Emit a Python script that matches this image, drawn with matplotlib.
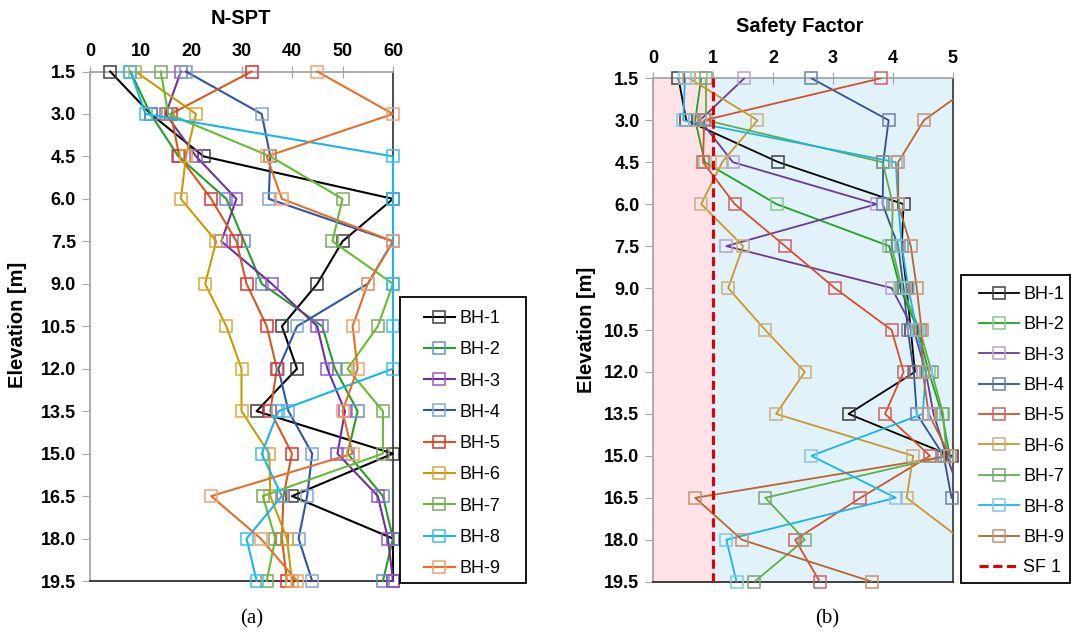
import matplotlib
matplotlib.use('Agg')
import matplotlib.pyplot as plt
from matplotlib.patches import Rectangle

plt.rcParams['font.family'] = ['Liberation Sans', 'DejaVu Sans']

# elevations of the borehole readings [m]
elev = [1.5, 3.0, 4.5, 6.0, 7.5, 9.0, 10.5, 12.0, 13.5, 15.0, 16.5, 18.0, 19.5]
labels = ['BH-1', 'BH-2', 'BH-3', 'BH-4', 'BH-5', 'BH-6', 'BH-7', 'BH-8', 'BH-9']

# N-SPT blow counts per borehole
nspt_bh1 = [4, 12, 22.5, 60, 50, 45, 38, 41, 33, 60, 40, 60, 60]
nspt_bh2 = [8, 12, 17.5, 27, 30.5, 34, 46, 48.5, 53, 51, 58, 60, 58]
nspt_bh3 = [18, 15, 21, 29, 26, 36, 45, 47, 50.5, 49, 57, 59, 60]
nspt_bh4 = [19, 34, 35.7, 35.4, 60, 55, 41, 37.3, 39.3, 44, 43, 41.3, 44]
nspt_bh5 = [32, 16, 17.7, 24, 29, 31, 35, 37, 35.7, 40, 38.3, 38, 39]
nspt_bh6 = [9, 21, 19, 18, 25, 22.8, 27, 30, 30, 35.5, 35.7, 39, 40]
nspt_bh7 = [14, 15.5, 35.7, 50, 48, 60, 57, 51, 58, 58, 34.2, 36.7, 35]
nspt_bh8 = [8, 11, 60, 60, 60, 60, 60, 60, 37.3, 34, 38, 31, 33]
nspt_bh9 = [45, 60, 35, 38, 60, 55, 52, 53, 50, 52, 24, 33.8, 41]

# safety factor against liquefaction per borehole
sf_bh1 = [0.42, 0.55, 2.09, 4.18, 4.15, 4.23, 4.3, 4.37, 3.26, 4.98, 6.0, 6.5, 6.5]
sf_bh2 = [0.8, 0.7, 0.86, 2.06, 3.94, 4.12, 4.42, 4.6, 4.82, 4.95, 6.0, 6.0, 6.0]
sf_bh3 = [1.52, 0.78, 1.33, 3.73, 1.22, 3.98, 4.35, 4.55, 4.68, 4.9, 5.15, 6.0, 6.0]
sf_bh4 = [2.64, 3.93, 3.84, 3.83, 4.09, 4.18, 4.25, 4.35, 4.4, 4.85, 4.98, 6.0, 6.0]
sf_bh5 = [3.8, 0.85, 0.83, 1.36, 2.2, 3.03, 3.98, 4.18, 3.87, 4.62, 3.46, 2.37, 2.78]
sf_bh6 = [0.6, 1.74, 1.15, 0.8, 1.5, 1.25, 1.87, 2.53, 2.05, 4.34, 4.23, 5.15, 6.0]
sf_bh7 = [0.88, 0.88, 3.83, 4.0, 3.98, 4.15, 4.45, 4.65, 4.84, 4.9, 1.87, 2.53, 1.69]
sf_bh8 = [0.53, 0.5, 4.05, 4.09, 4.15, 4.26, 4.4, 4.55, 4.5, 2.64, 4.05, 1.22, 1.39]
sf_bh9 = [5.5, 4.52, 4.09, 4.09, 4.3, 4.4, 4.48, 4.5, 4.6, 4.95, 0.7, 1.48, 3.65]
sf_limit = 1.0

nspt = [nspt_bh1, nspt_bh2, nspt_bh3, nspt_bh4, nspt_bh5, nspt_bh6, nspt_bh7, nspt_bh8, nspt_bh9]
sf = [sf_bh1, sf_bh2, sf_bh3, sf_bh4, sf_bh5, sf_bh6, sf_bh7, sf_bh8, sf_bh9]

line_a = ['#000000', '#22A022', '#7030A0', '#2F55A4', '#D55A1F', '#C99A06', '#66BB33', '#19B4EC', '#E2702A']
mark_a = ['#404040', '#6A8FD4', '#9B59C8', '#7FA7D8', '#E03030', '#D9A93A', '#7FA860', '#3BC1F0', '#F4A070']
line_b = ['#000000', '#22A022', '#6A3A9A', '#34508F', '#D5502A', '#C8962A', '#5FAF45', '#19B4EC', '#B8652E']
mark_b = ['#404040', '#8CC88C', '#B9A0D0', '#7080A8', '#D06060', '#C8B080', '#80A080', '#80C8E8', '#C89070']

W, H = 1074, 635
FS = 13
fig = plt.figure(figsize=(W / 100, H / 100), dpi=100)
ax1 = fig.add_axes([90 / W, 1 - 581 / H, 303 / W, (581 - 71.5) / H])
ax2 = fig.add_axes([653.3 / W, 1 - 581.7 / H, 299.4 / W, (581.7 - 78.3) / H])


def style_axis(ax, xmax, xticks):
    ax.set_ylim(19.5, 1.5)
    ax.set_xlim(0, xmax)
    ax.set_yticks(elev)
    ax.set_yticklabels([f'{v:.1f}' for v in elev], fontsize=FS, fontweight='bold')
    ax.xaxis.tick_top()
    ax.set_xticks(xticks)
    ax.set_xticklabels([str(t) for t in xticks], fontsize=FS, fontweight='bold')
    ax.tick_params(axis='x', direction='inout', length=9, color='#A6A6A6', pad=3.5)
    ax.tick_params(axis='y', direction='out', length=6, color='#A6A6A6', pad=4)
    ax.spines['top'].set_color('#A6A6A6')
    ax.spines['left'].set_color('#A6A6A6')
    ax.spines['right'].set_color('#404040')
    ax.spines['bottom'].set_color('#303030')
    for s in ax.spines.values():
        s.set_linewidth(1.3)


def boxed_legend(ax, handle_x, top_y, box, handlelength, spacing):
    leg = ax.legend(loc='upper left', bbox_to_anchor=(handle_x / W, 1 - top_y / H),
                    bbox_transform=fig.transFigure, fontsize=FS, frameon=False,
                    handlelength=handlelength, handletextpad=0.25,
                    labelspacing=spacing, borderpad=0, borderaxespad=0)
    x0, y0, x1, y1 = box
    fig.add_artist(Rectangle((x0 / W, 1 - y1 / H), (x1 - x0) / W, (y1 - y0) / H,
                             transform=fig.transFigure, fill=False,
                             edgecolor='black', lw=1.3))
    return leg


# (a) N-SPT profiles
style_axis(ax1, 60, [0, 10, 20, 30, 40, 50, 60])
for vals, lab, lc, mc in zip(nspt, labels, line_a, mark_a):
    ax1.plot(vals, elev, color=lc, lw=1.5, marker='s', ms=8, mfc='none',
             mec=mc, mew=1.1, label=lab, clip_on=False, zorder=3)
boxed_legend(ax1, 424, 310, (400, 297, 526, 583), 1.7, 0.79)

# (b) safety factor profiles
style_axis(ax2, 5, [0, 1, 2, 3, 4, 5])
ax2.axvspan(0, sf_limit, color='#FDE3E7', zorder=0)
ax2.axvspan(sf_limit, 5, color='#E2F2FA', zorder=0)
for vals, lab, lc, mc in zip(sf, labels, line_b, mark_b):
    ax2.plot(vals, elev, color=lc, lw=1.3, zorder=3)
    inside = [(v, e) for v, e in zip(vals, elev) if v <= 5.01]
    ax2.plot([p[0] for p in inside], [p[1] for p in inside], ls='none',
             marker='s', ms=8, mfc='none', mec=mc, mew=1.1, clip_on=False, zorder=4)
    ax2.plot([], [], color=lc, lw=1.3, marker='s', ms=8, mfc='none', mec=mc,
             mew=1.1, label=lab)
ax2.axvline(sf_limit, color='#E00000', lw=2.2, ls=(0, (3, 1.5)), zorder=5, label='SF 1')
boxed_legend(ax2, 979, 286, (961, 275, 1070, 583), 2.2, 0.74)

# titles, axis labels and captions
fig.text(241 / W, 1 - 18 / H, 'N-SPT', ha='center', va='center', fontsize=14.5, fontweight='bold')
fig.text(800 / W, 1 - 26 / H, 'Safety Factor', ha='center', va='center', fontsize=14.5, fontweight='bold')
fig.text(18 / W, 1 - 325 / H, 'Elevation [m]', ha='center', va='center', rotation=90,
         fontsize=14.5, fontweight='bold')
fig.text(586 / W, 1 - 330 / H, 'Elevation [m]', ha='center', va='center', rotation=90,
         fontsize=14.5, fontweight='bold')
fig.text(252 / W, 1 - 619 / H, '(a)', ha='center', va='center', fontsize=15,
         family='Liberation Serif')
fig.text(827 / W, 1 - 619 / H, '(b)', ha='center', va='center', fontsize=15,
         family='Liberation Serif')

fig.savefig('out.png', dpi=100)
